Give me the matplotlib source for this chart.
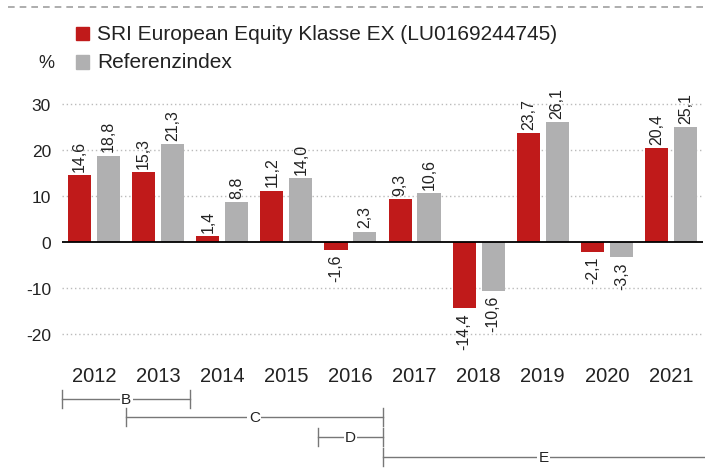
import numpy as np
import matplotlib.pyplot as plt
from matplotlib.lines import Line2D
from matplotlib.patches import Rectangle

plt.rcParams['font.family'] = ['Liberation Sans', 'DejaVu Sans']

years = ['2012', '2013', '2014', '2015', '2016', '2017', '2018', '2019', '2020', '2021']
fund = [14.6, 15.3, 1.4, 11.2, -1.6, 9.3, -14.4, 23.7, -2.1, 20.4]
index = [18.8, 21.3, 8.8, 14.0, 2.3, 10.6, -10.6, 26.1, -3.3, 25.1]
fund_name = 'SRI European Equity Klasse EX (LU0169244745)'
index_name = 'Referenzindex'
yticks = [-20, -10, 0, 10, 20, 30]

# brackets: (label, start, end) in bar-group units
periods = [('B', -0.5, 1.5), ('C', 0.5, 4.5), ('D', 3.5, 4.5), ('E', 4.5, 9.6)]

RED = '#c01a1a'
GREY = '#b0b0b1'
TXT = '#222222'

W, H = 705, 477
fig = plt.figure(figsize=(W / 100, H / 100), dpi=100)
ax = fig.add_axes([62 / W, (H - 355) / H, 641 / W, 260 / H])

x = np.arange(len(years))
bw = 0.36
off = 0.226
ax.bar(x - off, fund, bw, color=RED, zorder=3)
ax.bar(x + off, index, bw, color=GREY, zorder=3)

ax.set_xlim(-0.5, 9.5)
ax.set_ylim(-24.3, 32.2)
for v in yticks:
    if v == 0:
        ax.axhline(0, color='black', lw=1.3, zorder=4)
    else:
        ax.axhline(v, color='#bbbbbb', lw=1, ls=(0, (1, 2)), zorder=1)

ax.set_yticks(yticks)
ax.set_yticklabels([str(v) for v in yticks], fontsize=12.5, color=TXT)
ax.set_xticks(x)
ax.set_xticklabels(years, fontsize=14.5, color=TXT)
ax.tick_params(length=0)
ax.tick_params(axis='y', pad=8)
ax.tick_params(axis='x', pad=9)
for s in ax.spines.values():
    s.set_visible(False)

def fmt(v):
    return f'{v:.1f}'.replace('.', ',')

for xs, vals in ((x - off, fund), (x + off, index)):
    for xi, v in zip(xs, vals):
        if v >= 0:
            ax.annotate(fmt(v), (xi, v), xytext=(0, 3), textcoords='offset points',
                        rotation=90, ha='center', va='bottom', fontsize=11.5, color=TXT)
        else:
            ax.annotate(fmt(v), (xi, v), xytext=(0, -3), textcoords='offset points',
                        rotation=90, ha='center', va='top', fontsize=11.5, color=TXT)

# top dashed rule
fig.add_artist(Line2D([8 / W, 1], [1 - 8 / H] * 2, color='#a0a0a0', lw=1.2,
                      ls=(0, (4, 3))))

# legend
for row, (col, name) in enumerate(((RED, fund_name), (GREY, index_name))):
    yc = 34 + row * 29
    fig.add_artist(Rectangle((76 / W, 1 - (yc + 6.5) / H), 13 / W, 13 / H,
                             color=col, transform=fig.transFigure))
    fig.text(97 / W, 1 - yc / H, name, fontsize=15, color=TXT, va='center', ha='left')
fig.text(38 / W, 1 - 64 / H, '%', fontsize=13, color=TXT, va='center', ha='left')

# period brackets below the axis
rows = [400, 418, 438, 458]
for (lab, x0, x1), yp in zip(periods, rows):
    yf = 1 - yp / H
    px0 = ax.transData.transform((x0, 0))[0] / W
    px1 = min(ax.transData.transform((x1, 0))[0] / W, 1.0)
    fig.add_artist(Line2D([px0, px1], [yf, yf], color='#777777', lw=1))
    for px in (px0, px1):
        if px < 0.999:
            fig.add_artist(Line2D([px, px], [yf - 9 / H, yf + 9 / H], color='#777777', lw=1))
    fig.text((px0 + px1) / 2, yf, lab, fontsize=11, color=TXT, ha='center', va='center',
             bbox=dict(facecolor='white', edgecolor='none', pad=1))

fig.savefig('out.png', dpi=100)
